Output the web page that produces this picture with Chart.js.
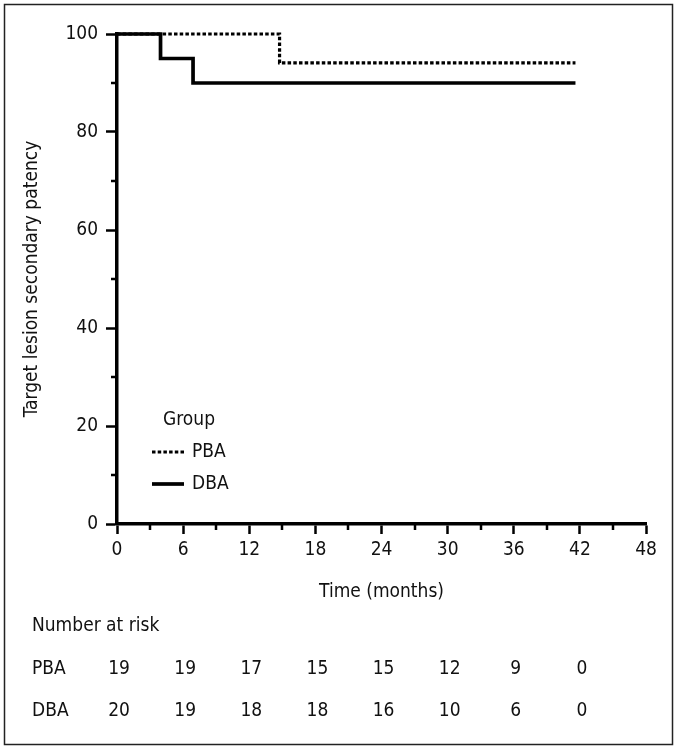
<!DOCTYPE html>
<html><head><meta charset="utf-8">
<script src="https://cdn.jsdelivr.net/npm/chart.js@4.4.1/dist/chart.umd.min.js"></script>
<style>html,body{margin:0;padding:0;background:#fff}#wrap{width:677px;height:749px}</style>
</head><body><div id="wrap"><canvas id="c" width="677" height="749"></canvas></div>
<script>
// ---- data ----
const groupNames = ['PBA', 'DBA'];
const pbaTime = [0, 14.75, 41.6];
const pbaPatency = [100, 94.1, 94.1];
const dbaTime = [0, 3.95, 6.9, 41.6];
const dbaPatency = [100, 95, 90, 90];
const riskTimes = [0, 6, 12, 18, 24, 30, 36, 42];
const pbaAtRisk = [19, 19, 17, 15, 15, 12, 9, 0];
const dbaAtRisk = [20, 19, 18, 18, 16, 10, 6, 0];
const xTickLabels = [0, 6, 12, 18, 24, 30, 36, 42, 48];
const yTickLabels = [0, 20, 40, 60, 80, 100];

const FONT = '"DejaVu Sans Condensed", "Liberation Sans Narrow", "DejaVu Sans", sans-serif';
const FS = 19;
const INK = '#111';

const toPoints = (t, v) => t.map((x, i) => ({x: x, y: v[i]}));

const extras = {
  id: 'extras',
  afterDraw(chart) {
    const ctx = chart.ctx;
    const xs = chart.scales.x, ys = chart.scales.y;
    const area = chart.chartArea;
    ctx.save();
    // minor ticks (shorter than the major ones)
    ctx.strokeStyle = '#000';
    ctx.lineWidth = 2.5;
    ctx.beginPath();
    ys.ticks.forEach(t => {
      if (!yTickLabels.includes(t.value)) {
        const y = Math.round(ys.getPixelForValue(t.value));
        ctx.moveTo(area.left - 6, y); ctx.lineTo(area.left, y);
      }
    });
    xs.ticks.forEach(t => {
      if (!xTickLabels.includes(t.value)) {
        const x = Math.round(xs.getPixelForValue(t.value));
        ctx.moveTo(x, area.bottom); ctx.lineTo(x, area.bottom + 6);
      }
    });
    ctx.stroke();
    // frame
    ctx.strokeStyle = '#222';
    ctx.lineWidth = 1.5;
    ctx.strokeRect(4.5, 4.5, 668, 740);
    // legend
    ctx.fillStyle = INK;
    ctx.font = FS + 'px ' + FONT;
    ctx.textBaseline = 'middle';
    ctx.textAlign = 'left';
    ctx.fillText('Group', 163, 420);
    const legY = [452, 484];
    chart.data.datasets.forEach((ds, i) => {
      ctx.beginPath();
      ctx.strokeStyle = ds.borderColor;
      ctx.lineWidth = ds.borderWidth;
      ctx.lineCap = 'butt';
      ctx.setLineDash(ds.borderDash || []);
      ctx.moveTo(152, legY[i]);
      ctx.lineTo(184, legY[i]);
      ctx.stroke();
      ctx.setLineDash([]);
      ctx.fillText(ds.label, 192, legY[i]);
    });
    // number at risk table
    ctx.fillText('Number at risk', 32, 626);
    const rows = [[groupNames[0], pbaAtRisk, 669], [groupNames[1], dbaAtRisk, 711]];
    rows.forEach(([name, vals, y]) => {
      ctx.textAlign = 'left';
      ctx.fillText(name, 32, y);
      ctx.textAlign = 'center';
      vals.forEach((v, i) => {
        ctx.fillText(String(v), xs.getPixelForValue(riskTimes[i]) + 2, y);
      });
    });
    ctx.restore();
  }
};

new Chart(document.getElementById('c'), {
  type: 'line',
  data: {
    datasets: [
      {label: groupNames[0], data: toPoints(pbaTime, pbaPatency), stepped: true,
       borderColor: '#000', borderWidth: 3.2, borderDash: [3.5, 2.2], pointRadius: 0,
       fill: false, clip: 6, borderCapStyle: 'butt'},
      {label: groupNames[1], data: toPoints(dbaTime, dbaPatency), stepped: true,
       borderColor: '#000', borderWidth: 3.7, pointRadius: 0, fill: false, clip: 6,
       borderCapStyle: 'butt'}
    ]
  },
  options: {
    responsive: false,
    devicePixelRatio: 1,
    animation: false,
    layout: {padding: {top: 34, right: 31, left: 0, bottom: 0}},
    plugins: {legend: {display: false}, tooltip: {enabled: false}},
    scales: {
      x: {
        type: 'linear', min: 0, max: 48,
        afterFit: s => { s.height = 225; },
        grid: {drawOnChartArea: false, drawTicks: true, tickLength: 10, tickWidth: 2.5,
               tickColor: c => xTickLabels.includes(c.tick && c.tick.value) ? '#000' : 'rgba(0,0,0,0)'},
        border: {display: true, width: 3.5, color: '#000'},
        ticks: {
          stepSize: 3, autoSkip: false, maxRotation: 0, padding: 5, color: INK,
          font: {family: FONT, size: FS},
          callback: v => xTickLabels.includes(v) ? String(v) : ''
        },
        title: {display: true, text: 'Time (months)', color: INK,
                font: {family: FONT, size: FS}, padding: {top: 10, bottom: 146}}
      },
      y: {
        type: 'linear', min: 0, max: 100,
        afterFit: s => { s.width = 117; },
        grid: {drawOnChartArea: false, drawTicks: true, tickLength: 11, tickWidth: 2.5,
               tickColor: c => yTickLabels.includes(c.tick && c.tick.value) ? '#000' : 'rgba(0,0,0,0)'},
        border: {display: true, width: 3.5, color: '#000'},
        ticks: {
          stepSize: 10, autoSkip: false, padding: 8, color: INK,
          font: {family: FONT, size: FS},
          callback: v => yTickLabels.includes(v) ? String(v) : ''
        },
        title: {display: true, text: 'Target lesion secondary patency', color: INK,
                font: {family: FONT, size: FS}, padding: {top: 21, bottom: 0}}
      }
    }
  },
  plugins: [extras]
});
</script>
</body></html>
